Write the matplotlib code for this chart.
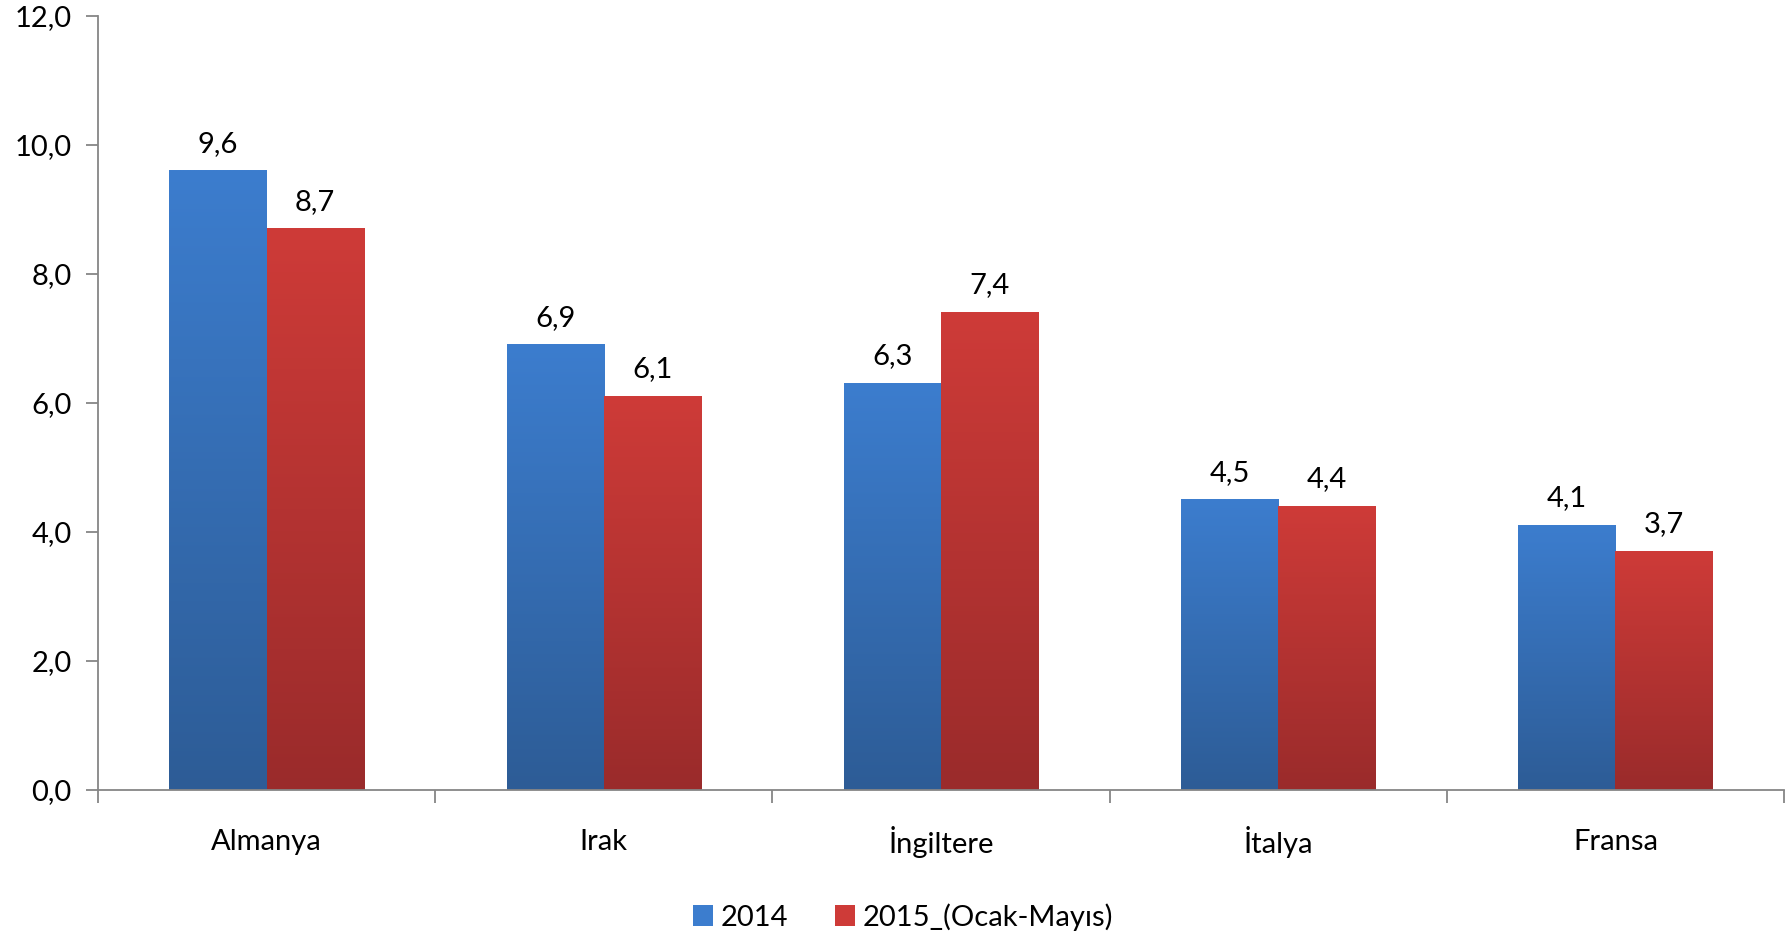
import numpy as np
import matplotlib
matplotlib.use('Agg')
import matplotlib.pyplot as plt
from matplotlib.colors import LinearSegmentedColormap
from matplotlib.patches import Patch

countries = ['Almanya', 'Irak', 'İngiltere', 'İtalya', 'Fransa']
values_2014 = [9.6, 6.9, 6.3, 4.5, 4.1]
values_2015 = [8.7, 6.1, 7.4, 4.4, 3.7]
series_names = ['2014', '2015_(Ocak-Mayıs)']

plt.rcParams['font.family'] = ['Lato', 'DejaVu Sans']
FS = 21

fig = plt.figure(figsize=(17.87, 9.36), dpi=100)
ax = fig.add_axes([98/1787, 1 - 790/936, (1784-98)/1787, (790-16)/936])

x = np.arange(len(countries))
w = 0.288

# gradient colours (top, bottom)
blue = ('#3C7DCE', '#2D5C96')
red = ('#CE3B38', '#9A2B2B')

def grad_bars(xs, vals, cols):
    cmap = LinearSegmentedColormap.from_list('g', [cols[1], cols[0]])
    bars = ax.bar(xs, vals, w, color='none', edgecolor='none')
    for b in bars:
        x0, h = b.get_x(), b.get_height()
        grad = np.linspace(0, 1, 256).reshape(-1, 1)
        ax.imshow(grad, cmap=cmap, aspect='auto', origin='lower',
                  extent=[x0, x0 + b.get_width(), 0, h], zorder=2)
    for xi, v in zip(xs, vals):
        ax.text(xi, v + 0.22, ('%.1f' % v).replace('.', ','), ha='center',
                va='bottom', fontsize=FS)
    return bars

grad_bars(x - w/2, values_2014, blue)
grad_bars(x + w/2, values_2015, red)

ax.set_xlim(-0.5, len(countries) - 0.5)
ax.set_ylim(0, 12)
ax.set_yticks(np.arange(0, 13, 2))
ax.set_yticklabels([('%.1f' % t).replace('.', ',') for t in np.arange(0, 13, 2)], fontsize=FS)
ax.set_xticks(np.arange(-0.5, len(countries), 1))
ax.set_xticklabels([])
for i, c in enumerate(countries):
    ax.text(i, -0.8, c, ha='center', va='center', fontsize=FS)

for s in ['top', 'right']:
    ax.spines[s].set_visible(False)
for s in ['left', 'bottom']:
    ax.spines[s].set_color('#868686')
    ax.spines[s].set_linewidth(1.3)
ax.tick_params(axis='both', colors='#868686', length=9, width=1.3, labelcolor='black')
ax.tick_params(axis='y', pad=10)

handles = [Patch(facecolor=blue[0]), Patch(facecolor=red[0])]
fig.legend(handles, series_names, loc='center', bbox_to_anchor=(903/1787, 1 - 917/936),
           ncol=2, frameon=False, fontsize=FS, handlelength=0.7, handleheight=0.7,
           handletextpad=0.25, columnspacing=1.6)

fig.savefig('out.png', dpi=100)
